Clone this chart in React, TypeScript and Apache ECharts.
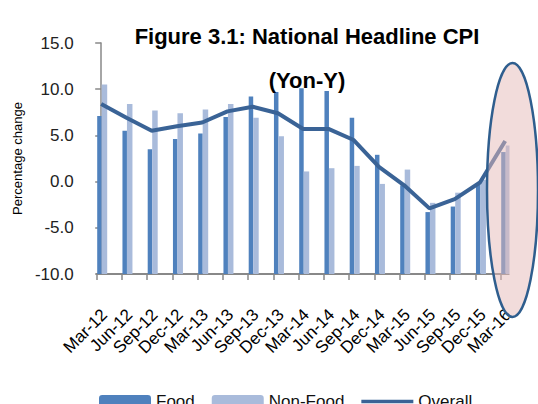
import React, { useEffect, useRef } from "react";
import * as echarts from "echarts";

const categories = [
  "Mar-12", "Jun-12", "Sep-12", "Dec-12", "Mar-13", "Jun-13", "Sep-13", "Dec-13",
  "Mar-14", "Jun-14", "Sep-14", "Dec-14", "Mar-15", "Jun-15", "Sep-15", "Dec-15", "Mar-16",
];
const food = [7.1, 5.5, 3.5, 4.6, 5.2, 7.0, 9.2, 9.7, 10.1, 9.8, 6.9, 2.9, -0.4, -3.3, -2.7, -0.3, 3.2];
const nonFood = [10.5, 8.4, 7.7, 7.4, 7.8, 8.4, 6.9, 4.9, 1.1, 1.45, 1.7, -0.25, 1.3, -2.3, -1.2, 0.2, 3.9];
const overall = [8.4, 6.9, 5.5, 6.0, 6.4, 7.6, 8.1, 7.4, 5.7, 5.7, 4.5, 1.6, -0.4, -2.9, -1.9, -0.1, 4.4];
const yTicks = { min: -10, max: 15, interval: 5 };

const FONT = "'Liberation Sans', Arial, sans-serif";

export default function App() {
  const ref = useRef<HTMLDivElement | null>(null);
  useEffect(() => {
    if (!ref.current) return;
    const chart = echarts.init(ref.current, null, { renderer: "svg" });
    const option: any = {
      animation: false,
      textStyle: { fontFamily: FONT },
      title: {
        text: "Figure 3.1: National Headline CPI\n(Yon-Y)",
        left: 302,
        top: 9,
        textAlign: "center",
        textStyle: { fontSize: 22, fontWeight: "bold", color: "#000", lineHeight: 44, fontFamily: FONT },
      },
      legend: {
        data: [
          { name: "Food" },
          { name: "Non-Food" },
          { name: "Overall", icon: "path://M0,0H52V3.5H0Z", itemStyle: { color: "#3a6396" } },
        ],
        left: 94,
        top: 388,
        itemWidth: 52,
        itemHeight: 13,
        itemGap: 17,
        textStyle: { fontSize: 17, color: "#111", fontFamily: FONT },
      },
      grid: { left: 96.7, right: 12.05, top: 43, bottom: 130, containLabel: false, outerBoundsMode: "none" },
      xAxis: [
        {
          type: "category",
          data: categories,
          boundaryGap: true,
          axisLine: { show: true, onZero: false, lineStyle: { color: "#888", width: 2 } },
          axisTick: { show: true, length: 6, alignWithLabel: false, lineStyle: { color: "#888", width: 1.5 } },
          axisLabel: {
            rotate: 45, interval: 0, fontSize: 17, color: "#000", margin: 33,
            padding: [0, 7, 0, 0], hideOverlap: false, fontFamily: FONT,
          },
          splitLine: { show: false },
        },
        {
          type: "value",
          show: false,
          min: -0.178,
          max: 16.822,
          splitLine: { show: false },
        },
      ],
      yAxis: {
        type: "value",
        min: yTicks.min,
        max: yTicks.max,
        interval: yTicks.interval,
        startValue: -10,
        name: "Percentage change",
        nameLocation: "middle",
        nameGap: 72,
        nameTextStyle: { fontSize: 13, color: "#000", fontFamily: FONT },
        axisLine: { show: true, lineStyle: { color: "#888", width: 1.5 } },
        axisTick: { show: true, length: 6, lineStyle: { color: "#888", width: 1.5 } },
        axisLabel: { formatter: (v: number) => v.toFixed(1), fontSize: 17, color: "#222", margin: 23, fontFamily: FONT },
        splitLine: { show: false },
      },
      series: [
        {
          name: "Food", type: "bar", data: food, barWidth: 4.5, barGap: "0%",
          itemStyle: { color: "#4f81bd" }, xAxisIndex: 0,
        },
        {
          name: "Non-Food", type: "bar", data: nonFood, barWidth: 5.5, barGap: "0%",
          itemStyle: { color: "#a9bbdb" }, xAxisIndex: 0,
        },
        {
          name: "_spacer", type: "bar", data: [], barWidth: 14.25, barGap: "0%",
          itemStyle: { color: "rgba(0,0,0,0)" }, xAxisIndex: 0,
        },
        {
          name: "Overall", type: "line", xAxisIndex: 1,
          data: overall.map((v, i) => [i, v]),
          symbol: "none",
          lineStyle: { color: "#3a6396", width: 4 },
          itemStyle: { color: "#3a6396" },
          z: 5,
        },
      ],
      graphic: [
        { type: "rect", z: 100, shape: { x: 509.5, y: 35, width: 30, height: 295 }, style: { fill: "#fff" } },
        {
          type: "ellipse", z: 101,
          shape: { cx: 512.5, cy: 190, rx: 25.5, ry: 127 },
          style: { fill: "rgba(229,186,184,0.5)", stroke: "#2f5e8e", lineWidth: 2.5 },
        },
      ],
    };
    chart.setOption(option);
    return () => chart.dispose();
  }, []);
  return (
    <div
      ref={ref}
      style={{ position: "fixed", left: 0, top: 0, width: 538, height: 404, background: "#fff" }}
    />
  );
}
